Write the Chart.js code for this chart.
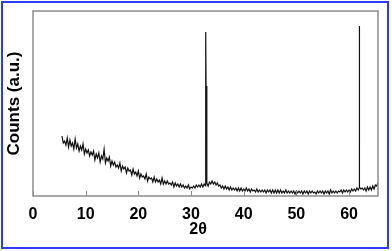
<!DOCTYPE html>
<html>
<head>
<meta charset="utf-8">
<script src="https://cdn.jsdelivr.net/npm/chart.js@4"></script>
<style>
  body { margin: 0; background: #fff; }
  #wrap { position: relative; width: 392px; height: 251px; }
  #frame { position: absolute; left: 1px; top: 1px; width: 388px; height: 248px;
           box-sizing: border-box; border: 2px solid #2a3cf5; pointer-events: none; }
</style>
</head>
<body>
<div id="wrap">
  <canvas id="xrd" width="392" height="251"></canvas>
  <div id="frame"></div>
</div>
<script>
// background scan: starts at 5.5 deg, one reading every 0.25 deg
var scanStart = 5.5;
var scanStep = 0.25;
var scanCounts = [
  60,53,55,51,58,49,56,50,53,47,57,48,52,45,50,46,52,42,47,43,
  46,40,44,41,45,36,42,38,43,34,40,37,47,33,38,35,39,30,35,31,
  34,29,31,28,33,25,30,27,29,23,28,25,26,21,27,22,24,20,25,18,
  22,19,20,17,22,15,19,17,18,14,19,14,17,14,16,12,18,12,15,12,
  15,12,13,11,14,9,13,10,12,9,12,9,11,8,10,8,11,7,9,8,
  10,8,11,9,11,9,12,9,12,10,13,10,14,12,15,12,14,11,13,10,
  11,8,10,7,10,7,9,6,9,6,8,6,8,5,8,5,8,5,7,5,
  8,5,7,4,7,5,6,4,7,4,6,4,6,4,6,3,6,4,6,3,
  6,3,6,3,6,3,6,3,5,3,6,3,5,3,5,3,5,2,5,3,
  5,3,5,2,5,3,5,2,5,3,5,3,4,2,5,3,5,3,5,2,
  5,3,5,2,6,3,5,3,5,3,5,4,6,3,6,4,6,4,6,4,
  7,5,7,5,8,6,9,7,8,6,8,5,9,6,9,6,10,7,11,10,
  13
];
// sharp reflections
var peakAngles = [32.78, 32.8, 32.85, 61.92, 61.95, 61.98];
var peakCounts = [12, 164, 110, 8, 170, 39];

var xTicks = [0, 10, 20, 30, 40, 50, 60];

var points = [];
scanCounts.forEach(function (c, i) {
  points.push({x: scanStart + i * scanStep, y: c});
});
peakAngles.forEach(function (a, i) {
  points.push({x: a, y: peakCounts[i]});
});
points.sort(function (a, b) { return a.x - b.x; });

var framePlugin = {
  id: 'framePlugin',
  afterDraw: function (chart) {
    var ctx = chart.ctx;
    var area = chart.chartArea;
    var xs = chart.scales.x;
    ctx.save();
    ctx.strokeStyle = '#8c8c8c';
    ctx.lineWidth = 1.5;
    ctx.strokeRect(area.left, area.top, area.right - area.left, area.bottom - area.top);
    // inward ticks
    ctx.lineWidth = 1;
    xTicks.forEach(function (t) {
      var px = Math.round(xs.getPixelForValue(t)) + 0.5;
      ctx.beginPath();
      ctx.moveTo(px, area.bottom);
      ctx.lineTo(px, area.bottom - 5);
      ctx.stroke();
    });
    // x axis title
    ctx.fillStyle = '#000';
    ctx.font = 'bold 16px "Liberation Sans", Arial, sans-serif';
    ctx.textAlign = 'center';
    ctx.textBaseline = 'middle';
    ctx.fillText('2\u03b8', 198, 230);
    ctx.restore();
  }
};

new Chart(document.getElementById('xrd'), {
  type: 'line',
  data: {
    datasets: [{
      data: points,
      borderColor: '#111',
      borderWidth: 1.2,
      pointRadius: 0,
      tension: 0,
      fill: false
    }]
  },
  options: {
    responsive: false,
    animation: false,
    devicePixelRatio: 1,
    layout: { padding: { left: 0, top: 11, right: 14, bottom: 0 } },
    plugins: { legend: { display: false }, tooltip: { enabled: false } },
    scales: {
      x: {
        type: 'linear',
        min: 0,
        max: 65.5,
        afterFit: function (s) { s.height = 55; },
        afterBuildTicks: function (s) {
          s.ticks = xTicks.map(function (v) { return {value: v}; });
        },
        grid: { display: false },
        border: { display: false },
        ticks: { color: '#000', font: { family: '"Liberation Sans", Arial, sans-serif', size: 16, weight: 'bold' }, padding: 1, maxRotation: 0 }
      },
      y: {
        min: 0,
        max: 185,
        afterFit: function (s) { s.width = 33; },
        grid: { display: false },
        border: { display: false },
        ticks: { display: false },
        title: {
          display: true,
          text: 'Counts (a.u.)',
          color: '#000',
          font: { family: '"Liberation Sans", Arial, sans-serif', size: 17, weight: 'bold' },
          padding: { top: 4, bottom: 0 }
        }
      }
    }
  },
  plugins: [framePlugin]
});
</script>
</body>
</html>
